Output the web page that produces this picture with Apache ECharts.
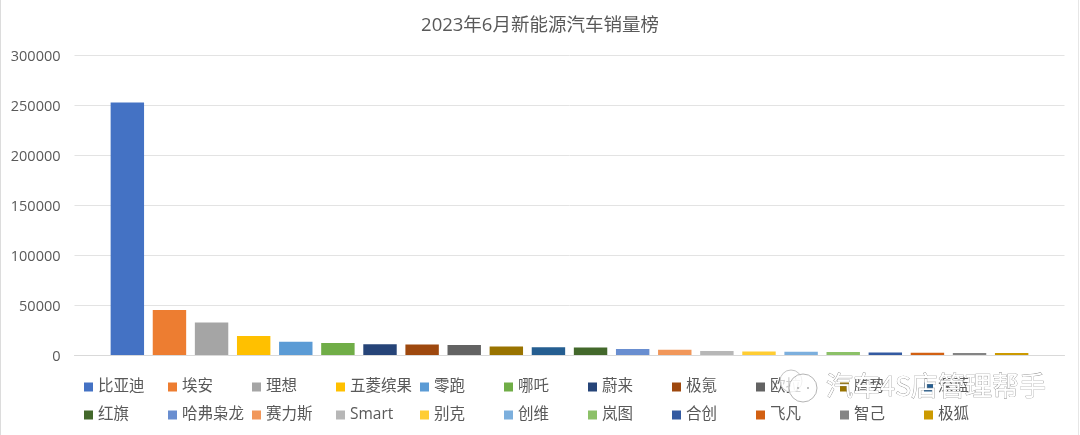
<!DOCTYPE html>
<html>
<head>
<meta charset="utf-8">
<style>html,body{margin:0;padding:0;background:#fff}#c{width:1080px;height:435px}</style>
<script src="https://cdn.jsdelivr.net/npm/echarts@6/dist/echarts.min.js"></script>
</head>
<body>
<div id="c"></div>
<script>
const titleText = '2023年6月新能源汽车销量榜';
const category = [''];
const brands = ['比亚迪','埃安','理想','五菱缤果','零跑','哪吒','蔚来','极氪','欧拉','腾势','深蓝','红旗','哈弗枭龙','赛力斯','Smart','别克','创维','岚图','合创','飞凡','智己','极狐'];
const sales = [252500,45000,32600,19000,13200,12100,10700,10600,10000,8500,7800,7500,6000,5200,3900,3600,3300,3000,2600,2300,2000,1900];
const palette = ['#4472C4','#ED7D31','#A5A5A5','#FFC000','#5B9BD5','#70AD47','#264478','#9E480E','#636363','#997300','#255E91','#43682B','#698ED0','#F1975A','#B7B7B7','#FFCD33','#7CAFDD','#8CC168','#335AA1','#D26012','#848484','#CC9A00'];
const watermark = '汽车4S店管理帮手';

const cjk = '"Open Sans","Noto Sans CJK SC",sans-serif';
const chart = echarts.init(document.getElementById('c'), null, {renderer:'canvas'});
chart.setOption({
  animation:false,
  backgroundColor:'#fff',
  color:palette,
  title:{text:titleText,left:'center',top:11,textStyle:{fontFamily:cjk,fontSize:18.5,fontWeight:'normal',color:'#595959'}},
  legend:{
    left:79,top:374,width:935,padding:[3,5],
    icon:'rect',itemWidth:9,itemHeight:9,itemGap:8,
    selectedMode:false,
    textStyle:{fontFamily:cjk,fontSize:15.5,color:'#595959',width:62,padding:[0,0,0,0],overflow:'none',lineHeight:20}
  },
  grid:{left:74.5,right:15.5,top:55,bottom:80,containLabel:false},
  xAxis:{type:'category',data:category,axisTick:{show:false},axisLabel:{show:false},axisLine:{lineStyle:{color:'#d9d9d9',width:1}}},
  yAxis:{type:'value',min:0,max:300000,interval:50000,axisLine:{show:false},axisTick:{show:false},
    axisLabel:{margin:14,fontFamily:cjk,fontSize:14.5,color:'#595959',verticalAlign:'top',lineHeight:3,formatter:v=>String(v)},
    splitLine:{lineStyle:{color:'#e3e3e3',width:1}}},
  series:brands.map((n,i)=>({name:n,type:'bar',data:[sales[i]],barGap:'26%',barCategoryGap:'7.3%',itemStyle:{color:palette[i]}})),
  graphic:[
    {type:'line',silent:true,shape:{x1:0.5,y1:0,x2:0.5,y2:435},style:{stroke:'#dcdcdc',lineWidth:1}},
    {type:'line',silent:true,shape:{x1:1078.5,y1:0,x2:1078.5,y2:435},style:{stroke:'#e6e6e6',lineWidth:1}},
    {type:'circle',silent:true,z:50,shape:{cx:791,cy:381,r:11},style:{fill:'rgba(255,255,255,0.7)',stroke:'#c4c4c4',lineWidth:1}},
    {type:'circle',silent:true,z:51,shape:{cx:803,cy:388,r:14},style:{fill:'rgba(255,255,255,0.75)',stroke:'#b5b5b5',lineWidth:1}},
    {type:'circle',silent:true,z:52,shape:{cx:798,cy:388,r:1},style:{fill:'#aaa'}},
    {type:'circle',silent:true,z:52,shape:{cx:808,cy:388,r:1},style:{fill:'#aaa'}},
    {type:'text',silent:true,z:53,x:826,y:372,style:{text:watermark,font:'27px "Noto Sans CJK SC",sans-serif',fill:'#ffffff',stroke:'#8a8a8a',lineWidth:0.7}}
  ]
});
</script>
</body>
</html>
